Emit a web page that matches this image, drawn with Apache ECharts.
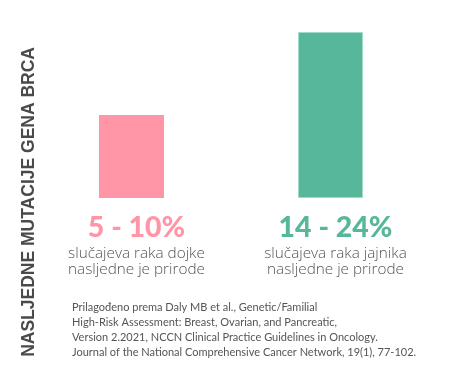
<!DOCTYPE html>
<html>
<head>
<meta charset="utf-8">
<script src="https://cdn.jsdelivr.net/npm/echarts@6/dist/echarts.min.js"></script>
<style>
html,body{margin:0;padding:0;background:#fff;}
#chart{width:458px;height:385px;}
</style>
</head>
<body>
<div id="chart"></div>
<script>
const categories = ['dojke', 'jajnika'];
const values = [12, 24];
const pctLabels = ['5 - 10%', '14 - 24%'];
const descLine1 = ['slučajeva raka dojke', 'slučajeva raka jajnika'];
const descLine2 = ['nasljedne je prirode', 'nasljedne je prirode'];
const colors = ['#ff96a8', '#57b79b'];
const titleText = 'NASLJEDNE MUTACIJE GENA BRCA';
const footnote = [
  'Prilagođeno prema Daly MB et al., Genetic/Familial',
  'High-Risk Assessment: Breast, Ovarian, and Pancreatic,',
  'Version 2.2021, NCCN Clinical Practice Guidelines in Oncology.',
  'Journal of the National Comprehensive Cancer Network, 19(1), 77-102.'
];

const chart = echarts.init(document.getElementById('chart'));
chart.setOption({
  animation: false,
  grid: { left: 32, right: 28, top: 32, bottom: 187 },
  xAxis: {
    type: 'category',
    data: categories,
    axisLine: { show: false },
    axisTick: { show: false },
    axisLabel: {
      interval: 0,
      margin: 10,
      padding: [0, 0, 0, 10],
      formatter: function (v, i) {
        const k = i === 0 ? 'p' : 'g';
        return '{' + k + '|' + pctLabels[i] + '}\n{s|' + descLine1[i] + '}\n{s|' + descLine2[i] + '}';
      },
      rich: {
        p: { fontFamily: 'Lato', fontWeight: 900, fontSize: 28.5, color: colors[0], lineHeight: 38, padding: [1, 0, 0, 0] },
        g: { fontFamily: 'Lato', fontWeight: 900, fontSize: 28.5, color: colors[1], lineHeight: 38, padding: [1, 0, 0, 0] },
        s: { fontFamily: '"Open Sans"', fontWeight: 300, fontSize: 15.3, color: '#555', lineHeight: 15.5 }
      }
    }
  },
  yAxis: {
    type: 'value',
    min: 0,
    max: 24,
    show: false
  },
  series: [{
    type: 'bar',
    data: values.map((v, i) => ({
      value: v,
      itemStyle: { color: colors[i], borderColor: i === 1 ? '#a3dac8' : colors[i], borderWidth: i === 1 ? 1 : 0 }
    })),
    barWidth: 65
  }],
  graphic: [
    {
      type: 'text',
      left: 20,
      top: 47,
      rotation: Math.PI / 2,
      style: {
        text: titleText,
        font: 'bold 17.5px "Liberation Sans", Arial, sans-serif',
        fill: '#4a4a4a'
      }
    },
    {
      type: 'text',
      left: 72,
      top: 300,
      style: {
        text: footnote.join('\n'),
        font: '11px Lato, sans-serif',
        lineHeight: 15,
        fill: '#555'
      }
    }
  ]
});
</script>
</body>
</html>
